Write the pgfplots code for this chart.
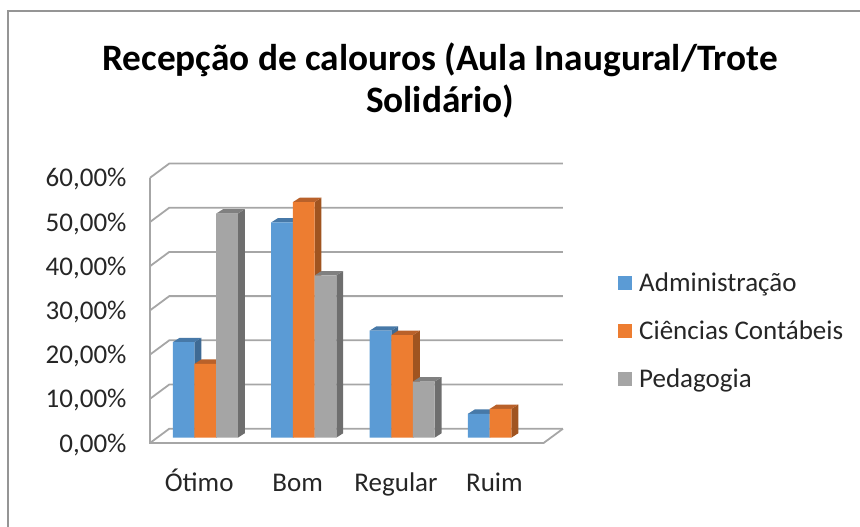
\documentclass[border=0pt]{standalone}
\usepackage{pgfplots}
\pgfplotsset{compat=1.18}
\usepackage{fontspec}
\setmainfont{Carlito}
\definecolor{cblue}{HTML}{5B9BD5}\definecolor{cblueS}{HTML}{3E6A94}\definecolor{cblueT}{HTML}{4779A8}
\definecolor{corange}{HTML}{ED7D31}\definecolor{corangeS}{HTML}{A05420}\definecolor{corangeT}{HTML}{B9612A}
\definecolor{cgray}{HTML}{A5A5A5}\definecolor{cgrayS}{HTML}{6E6E6E}\definecolor{cgrayT}{HTML}{808080}
\definecolor{cgrid}{HTML}{A6A6A6}
% #1 left edge of bar, #2 right edge, #3 value, #4 side colour, #5 top colour
\newcommand\depthfaces[5]{%
 \pgfmathsetmacro\xa{#1+0.0701}\pgfmathsetmacro\xb{#2+0.0701}\pgfmathsetmacro\yb{#3+1.0}%
 \addplot[fill=#4,draw=none,forget plot,mark=none] coordinates {(#2,0) (\xb,1.0) (\xb,\yb) (#2,#3) (#2,0)};
 \addplot[fill=#5,draw=none,forget plot,mark=none] coordinates {(#1,#3) (\xa,\yb) (\xb,\yb) (#2,#3) (#1,#3)};
}
\newcommand\gridl[2]{%
 \addplot[cgrid,line width=1.8pt,forget plot] coordinates {(0,#1) (0.196,#2) (4.197,#2)};
}
\begin{document}
\begin{tikzpicture}
\path[use as bounding box] (-150pt,-84pt) rectangle (710pt,443pt);
\begin{axis}[
  x=98.4pt,y=4.42pt,
  xmin=0,xmax=4.197,ymin=-1.2,ymax=62.3,
  clip=false,
  axis line style={draw=none},
  tick style={draw=none},
  ytick={0,10,20,30,40,50,60},
  yticklabels={0{,}00\%,10{,}00\%,20{,}00\%,30{,}00\%,40{,}00\%,50{,}00\%,60{,}00\%},
  xtick={0.5,1.5,2.5,3.5},
  xticklabels={Ótimo,Bom,Regular,Ruim},
  tick label style={font=\fontsize{27}{31}\selectfont,text=black!85},
  yticklabel style={anchor=east,xshift=-20pt,yshift=-7pt},
  xticklabel style={anchor=base,yshift=-49pt},
  title={\textbf{Recepção de calouros (Aula Inaugural/Trote}\\\textbf{Solidário)}},
  title style={font=\fontsize{37.3}{42}\selectfont,align=center,anchor=center,at={(290pt,357pt)},inner sep=0pt,text=black},
  legend style={at={(468pt,172pt)},anchor=north west,draw=none,fill=none,
     font=\fontsize{27}{31}\selectfont,text=black!85,row sep=23.5pt,inner sep=0pt,column sep=5pt},
  legend cell align=left,
  legend image code/.code={\fill[#1] (0pt,-7pt) rectangle (14pt,7pt);},
]
% walls
\gridl{-1.2}{2.03}
\gridl{8.8}{12.03}
\gridl{18.8}{22.03}
\gridl{28.8}{32.03}
\gridl{38.8}{42.03}
\gridl{48.8}{52.03}
\gridl{58.8}{62.03}
\addplot[cgrid,line width=1.8pt,forget plot] coordinates {(0,58.8) (0,-1.2) (4.0,-1.2) (4.197,2.03)};
% depth faces, left to right
\depthfaces{0.2313}{0.4519}{21.6}{cblueS}{cblueT}
\depthfaces{0.4519}{0.6724}{16.7}{corangeS}{corangeT}
\depthfaces{0.6724}{0.8929}{50.7}{cgrayS}{cgrayT}
\depthfaces{1.2313}{1.4519}{48.7}{cblueS}{cblueT}
\depthfaces{1.4519}{1.6724}{53.3}{corangeS}{corangeT}
\depthfaces{1.6724}{1.8929}{36.7}{cgrayS}{cgrayT}
\depthfaces{2.2313}{2.4519}{24.2}{cblueS}{cblueT}
\depthfaces{2.4519}{2.6724}{23.2}{corangeS}{corangeT}
\depthfaces{2.6724}{2.8929}{12.7}{cgrayS}{cgrayT}
\depthfaces{3.2313}{3.4519}{5.4}{cblueS}{cblueT}
\depthfaces{3.4519}{3.6724}{6.5}{corangeS}{corangeT}
% front faces
\addplot[ybar,bar width=21.7pt,bar shift=-21.7pt,fill=cblue,draw=none] coordinates {(0.5621,21.6) (1.5621,48.7) (2.5621,24.2) (3.5621,5.4)};
\addplot[ybar,bar width=21.7pt,bar shift=0pt,fill=corange,draw=none] coordinates {(0.5621,16.7) (1.5621,53.3) (2.5621,23.2) (3.5621,6.5)};
\addplot[ybar,bar width=21.7pt,bar shift=21.7pt,fill=cgray,draw=none] coordinates {(0.5621,50.7) (1.5621,36.7) (2.5621,12.7)};
\legend{Administração,Ciências Contábeis,Pedagogia}
\end{axis}
\draw[cgrid!90!black,line width=1.2pt] (-142pt,-84pt) -- (-142pt,432pt) -- (710pt,432pt);
\end{tikzpicture}
\end{document}
